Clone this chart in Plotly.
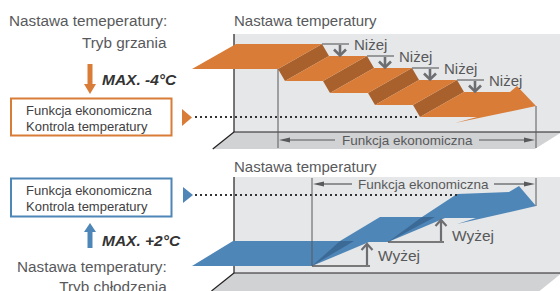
import plotly.graph_objects as go

# ---------------- data ----------------
heating_steps = [0, -1, -2, -3, -4]      # setpoint levels, heating (step down)
cooling_steps = [0, 1, 2]                # setpoint levels, cooling (step up)
heat_max_label = "MAX. -4°C"
cool_max_label = "MAX. +2°C"
heat_step_word = "Niżej"
cool_step_word = "Wyżej"
panel_title = "Nastawa temperatury"
eco_label = "Funkcja ekonomiczna"
box_lines = ["Funkcja ekonomiczna", "Kontrola temperatury"]
heat_title = ["Nastawa temeperatury:", "Tryb grzania"]
cool_title = ["Nastawa temperatury:", "Tryb chłodzenia"]

# ---------------- styles ----------------
FONT = "Liberation Sans, Arial, sans-serif"
ORANGE = "#d97c38"
ORANGE_D = "#a8612c"
BLUE = "#4f86b8"
BLUE_D = "#3c6a96"
WALL = "#e6e7e8"
FLOOR = "#d1d2d4"
TXT = "#58595b"
TXT2 = "#414042"
GREY = "#6d6e71"
BLACK = "#231f20"

W, H = 560, 291
shapes = []
annos = []


def poly(pts, fill, line_color=None, lw=0):
    d = "M " + " L ".join(f"{x},{y}" for x, y in pts) + " Z"
    shapes.append(dict(type="path", path=d, xref="x", yref="y", fillcolor=fill,
                       line=dict(color=line_color or fill, width=lw), layer="above"))


def seg(x0, y0, x1, y1, color, w=1, dash=None):
    shapes.append(dict(type="line", x0=x0, y0=y0, x1=x1, y1=y1, xref="x", yref="y",
                       line=dict(color=color, width=w, dash=dash), layer="above"))


def polyline(pts, color, w=1):
    d = "M " + " L ".join(f"{x},{y}" for x, y in pts)
    shapes.append(dict(type="path", path=d, xref="x", yref="y",
                       line=dict(color=color, width=w), layer="above"))


def text(x, y, s, size, color=TXT, anchor="left", bold=False, italic=False, align="left"):
    if bold:
        s = f"<b>{s}</b>"
    if italic:
        s = f"<i>{s}</i>"
    annos.append(dict(x=x, y=y, xref="x", yref="y", text=s, showarrow=False,
                      xanchor=anchor, yanchor="middle", borderpad=0, align=align,
                      font=dict(family=FONT, size=size, color=color)))


def room(top, bottom, floor_h, right_slope):
    poly([(234, top), (W + 2, top), (W + 2, bottom), (234, bottom)], WALL)
    poly([(234, bottom), (W + 2, bottom), (W + 2 - floor_h * right_slope, bottom + floor_h),
          (234 - floor_h * 1.25, bottom + floor_h)], FLOOR)
    seg(234, top, 234, bottom, BLACK, 1.2)
    seg(234, bottom, W + 2, bottom, BLACK, 1.2)
    seg(234, bottom, 234 - floor_h * 1.25, bottom + floor_h, BLACK, 1.2)


def dim_arrow(x0, x1, y, label, gap_l, gap_r):
    seg(x0 + 9, y, gap_l, y, TXT, 1.2)
    seg(gap_r, y, x1 - 9, y, TXT, 1.2)
    poly([(x0, y), (x0 + 11, y - 2.6), (x0 + 11, y + 2.6)], TXT)
    poly([(x1, y), (x1 - 11, y - 2.6), (x1 - 11, y + 2.6)], TXT)
    text((gap_l + gap_r) / 2, y, label, 13.5, TXT, "center")


def chevron_arrow(x, y_from, y_to, color, w, hw, hh):
    # vertical arrow with open V head at y_to
    sgn = 1 if y_to > y_from else -1
    seg(x, y_from, x, y_to - sgn * 1, color, w)
    polyline([(x - hw, y_to - sgn * hh), (x, y_to), (x + hw, y_to - sgn * hh)], color, w)


# ================= TOP PANEL (heating) =================
room(34, 132, 17, 1.6)
text(233, 20, panel_title, 15, TXT)

depth = (44, -25)
y_front0, dy_step = 69, 12
x_start0, x_end0 = 192, 278
riser_dx, flat_len = 7, 38

fronts = []  # (x_start, x_end, y) for each heating level
for i, lv in enumerate(heating_steps):
    y = y_front0 - lv * dy_step
    if i == 0:
        xs, xe = x_start0, x_end0
    else:
        xs = x_end0 + riser_dx + (i - 1) * (flat_len + riser_dx)
        xe = xs + flat_len
    fronts.append((xs, xe, y))

# risers
for i in range(len(fronts) - 1):
    xs, xe, y = fronts[i]
    poly([(xe, y), (xe + depth[0], y + depth[1]),
          (xe + depth[0] + riser_dx, y + depth[1] + dy_step), (xe + riser_dx, y + dy_step)], ORANGE_D)
# flats
for i, (xs, xe, y) in enumerate(fronts[:-1]):
    poly([(xs, y), (xe, y), (xe + depth[0], y + depth[1]), (xs + depth[0], y + depth[1])], ORANGE)
# last flat as arrow
xs, xe, y = fronts[-1]
yb = y + depth[1]
tip = (536, y - 11)
poly([(xs, y), (xs + 57, y), (xs + 35, y + 6), tip, (tip[0] - 19, yb - 6),
      (tip[0] - 26, yb), (xs + depth[0], yb)], ORANGE)

# "Niżej" markers
for i in range(len(fronts) - 1):
    xs, xe, y = fronts[i]
    xb, yb_ = xe + depth[0], y + depth[1]
    seg(xb, yb_, xb + 27, yb_, GREY, 1.3)
    chevron_arrow(xb + 18, yb_ + 1, yb_ + dy_step - 0.5, GREY, 2.6, 6, 6)
    text(xb + 31, yb_, heat_step_word, 15, TXT)

# dotted level line
last_y = fronts[-1][2]
seg(195, last_y, fronts[-1][0], last_y, "#333333", 2, "2px,3px")

# dimension
seg(x_end0, y_front0, x_end0, 148, TXT, 1)
seg(tip[0], tip[1], tip[0], 148, TXT, 1)
dim_arrow(x_end0 + 1, tip[0] - 1, 140, eco_label, 335, 479)

# left texts
text(168, 20, heat_title[0], 15.3, TXT, "right")
text(168, 42, heat_title[1], 15.3, TXT, "right")
poly([(87.5, 64), (92.5, 64), (92.5, 84), (87.5, 84)], ORANGE)
poly([(84, 84), (96, 84), (90, 94)], ORANGE)
text(101, 79, heat_max_label, 15.5, "#333333", bold=True, italic=True)
shapes.append(dict(type="rect", x0=11, y0=98.5, x1=171.5, y1=135.5, xref="x", yref="y",
                   line=dict(color=ORANGE, width=2), fillcolor="white"))
text(25, 110, box_lines[0], 13, TXT2)
text(25, 126, box_lines[1], 13, TXT2)
poly([(182, 109), (192, 117.5), (182, 126)], ORANGE)

# ================= BOTTOM PANEL (cooling) =================
room(177, 273, 18, 1.25)
text(233, 166, panel_title, 15, TXT)

c_front0, c_dy = 266, 24
c_x0, c_x1 = 192, 312
ramp_run = 57
mid_len = 19
# front path points for levels
f_pts = [(c_x0, c_front0), (c_x1, c_front0)]
x = c_x1
for i in range(1, len(cooling_steps)):
    y = c_front0 - cooling_steps[i] * c_dy
    x += ramp_run
    f_pts.append((x, y + 0.0))
    if i < len(cooling_steps) - 1:
        x += mid_len
        f_pts.append((x, y))
# back path (top boundary), traced outline
top_y = [c_front0 - 25 - lv * c_dy for lv in cooling_steps]
b_pts = [(233, top_y[0]), (340, top_y[0]), (380, top_y[1]), (422, top_y[1]), (457, top_y[2] + 1)]
ytop = f_pts[-1][1]
tipb = (536, ytop - 12)
arrow_pts = [(f_pts[-1][0] + 31, ytop), (f_pts[-1][0] + 12, ytop + 6), tipb,
             (tipb[0] - 17, top_y[2] - 7), (tipb[0] - 27, top_y[2] - 1)]
outline = f_pts + arrow_pts + list(reversed(b_pts))
poly(outline, BLUE)
# darker under-side triangles on ramps
poly([(c_x1, c_front0), (340, top_y[0]), (354, top_y[0])], BLUE_D)
poly([(f_pts[3][0], f_pts[3][1]), (422, top_y[1]), (435, top_y[1])], BLUE_D)

# Wyżej markers
wy = [(c_x1, c_front0, 58, -11), (f_pts[3][0], f_pts[3][1], 56, -7)]
for i, (wx, wyy, ln, toff) in enumerate(wy):
    seg(wx, wyy, wx + ln, wyy, "#555555", 1.3)
    ax = wx + ln - 3
    chevron_arrow(ax, wyy - 1, wyy - c_dy + 2, GREY, 2.2, 5.5, 6)
    text(ax + 10, wyy + toff, cool_step_word, 15.5, TXT)

# dotted level line
seg(195, 195, 457, 195, "#333333", 2, "2px,3px")

# dimension
seg(c_x1, 178, c_x1, c_front0, TXT, 1)
seg(tipb[0], 178, tipb[0], tipb[1], TXT, 1)
dim_arrow(c_x1 + 1, tipb[0] - 1, 184, eco_label, 352, 494)

# left texts
shapes.append(dict(type="rect", x0=11, y0=178.5, x1=171.5, y1=216.5, xref="x", yref="y",
                   line=dict(color=BLUE, width=2), fillcolor="white"))
text(25, 190, box_lines[0], 13, TXT2)
text(25, 206, box_lines[1], 13, TXT2)
poly([(183, 187), (193, 195), (183, 203)], BLUE)
poly([(87.5, 231), (92.5, 231), (92.5, 248), (87.5, 248)], BLUE)
poly([(84, 232), (96, 232), (90, 223)], BLUE)
text(101, 240, cool_max_label, 15.5, "#333333", bold=True, italic=True)
text(168, 276, "<br>".join(cool_title), 15.3, TXT, "right", align="right")

fig = go.Figure()
fig.update_layout(
    width=W, height=H, margin=dict(l=0, r=0, t=0, b=0),
    paper_bgcolor="white", plot_bgcolor="white",
    xaxis=dict(range=[0, W], visible=False, fixedrange=True),
    yaxis=dict(range=[H, 0], visible=False, fixedrange=True),
    shapes=shapes, annotations=annos, showlegend=False,
)
fig.write_html("out.html", config={"displayModeBar": False},
               post_script="document.body.style.margin='0';document.body.style.overflow='hidden';")
